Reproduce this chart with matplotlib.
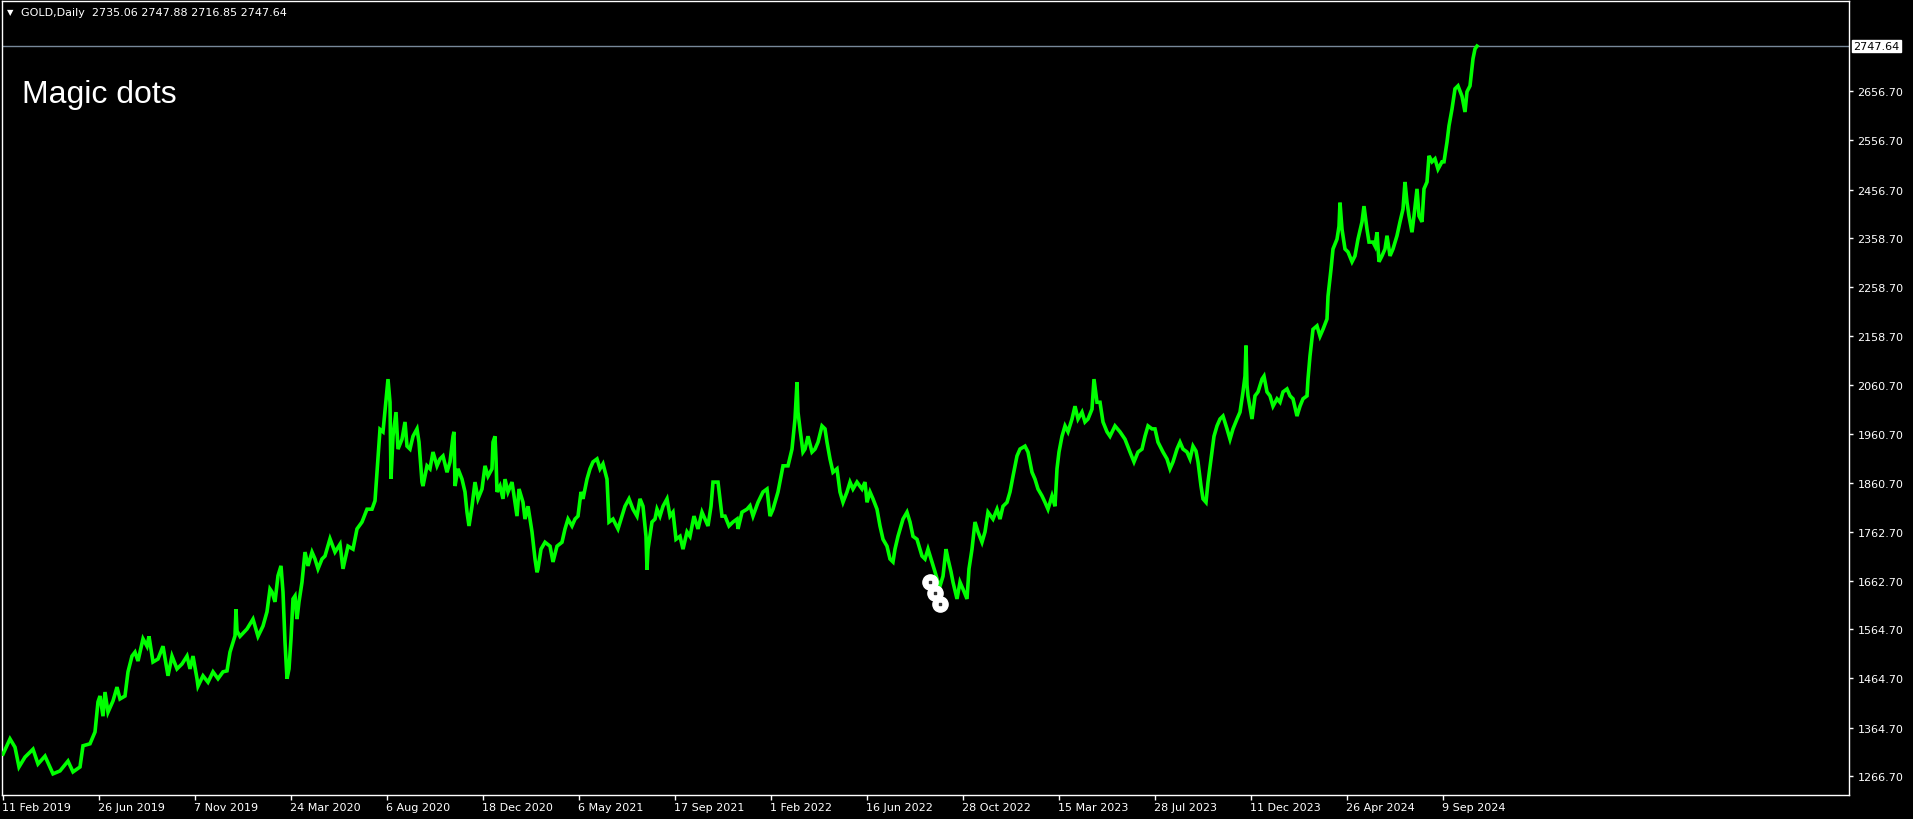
import matplotlib
matplotlib.use("Agg")
import matplotlib.pyplot as plt
import matplotlib.transforms as mtransforms

# bar column (one bar per pixel column, bar 3 = 11 Feb 2019) and price at turning points
bar = [3, 10, 15, 19, 25, 33, 38, 45, 53, 60, 68, 73, 80, 83, 90, 95, 98, 100, 103, 105,
       108, 113, 117, 120, 125, 128, 132, 135, 138, 143, 147, 149, 153, 158, 163, 168, 172, 177, 182, 187,
       190, 193, 197, 198, 203, 208, 213, 218, 223, 227, 230, 235, 236, 237, 240, 247, 253, 258, 263, 267,
       270, 272, 275, 278, 281, 283, 285, 287, 289, 291, 293, 295, 297, 299, 302, 305, 308, 312, 315, 318,
       322, 325, 330, 335, 340, 343, 348, 353, 357, 362, 367, 372, 375, 377, 380, 383, 387, 388, 390, 391,
       393, 396, 398, 402, 405, 407, 410, 413, 417, 419, 422, 423, 427, 430, 433, 437, 440, 443, 447, 450,
       453, 454, 455, 458, 462, 465, 467, 469, 472, 475, 478, 482, 485, 488, 492, 493, 495, 496, 497, 500,
       503, 505, 508, 512, 515, 517, 519, 523, 525, 528, 532, 535, 537, 538, 541, 545, 550, 553, 557, 562,
       565, 568, 572, 575, 578, 581, 583, 587, 590, 593, 597, 600, 603, 607, 609, 613, 618, 622, 625, 629,
       633, 637, 640, 643, 646, 647, 648, 652, 655, 657, 660, 663, 667, 670, 673, 676, 680, 683, 687, 690,
       694, 698, 702, 705, 708, 711, 713, 718, 722, 725, 729, 733, 737, 738, 742, 747, 750, 753, 758, 763,
       767, 770, 773, 778, 783, 788, 792, 795, 797, 798, 800, 803, 805, 808, 812, 815, 818, 822, 825, 827,
       830, 833, 837, 840, 843, 847, 850, 853, 857, 862, 865, 867, 870, 873, 877, 880, 883, 887, 890, 893,
       895, 898, 903, 907, 910, 913, 917, 922, 925, 928, 932, 935, 938, 940, 943, 946, 948, 951, 953, 957,
       960, 963, 967, 969, 972, 975, 978, 982, 985, 988, 993, 997, 1000, 1003, 1007, 1010, 1013, 1017, 1020, 1025,
       1028, 1032, 1035, 1038, 1042, 1045, 1048, 1052, 1055, 1057, 1059, 1062, 1065, 1068, 1072, 1075, 1078, 1082, 1085, 1088,
       1092, 1094, 1097, 1100, 1103, 1107, 1110, 1115, 1120, 1125, 1130, 1134, 1138, 1142, 1145, 1148, 1152, 1155, 1158, 1163,
       1167, 1170, 1173, 1177, 1180, 1183, 1187, 1190, 1193, 1196, 1198, 1201, 1203, 1206, 1208, 1211, 1214, 1217, 1220, 1223,
       1227, 1230, 1233, 1237, 1240, 1243, 1245, 1246, 1247, 1248, 1252, 1255, 1258, 1262, 1264, 1267, 1270, 1273, 1277, 1280,
       1283, 1287, 1290, 1293, 1297, 1300, 1303, 1307, 1308, 1310, 1313, 1317, 1320, 1323, 1327, 1328, 1331, 1333, 1337, 1339,
       1340, 1342, 1345, 1348, 1352, 1355, 1358, 1362, 1364, 1367, 1369, 1373, 1375, 1377, 1379, 1382, 1385, 1387, 1390, 1393,
       1397, 1400, 1403, 1405, 1407, 1409, 1412, 1414, 1417, 1419, 1422, 1424, 1427, 1429, 1432, 1435, 1438, 1442, 1444, 1447,
       1449, 1452, 1455, 1458, 1462, 1465, 1467, 1470, 1473, 1475, 1477]
price = [1311, 1342, 1325, 1285, 1305, 1321, 1291, 1307, 1271, 1277, 1297, 1275, 1285, 1328, 1332, 1356, 1417, 1429, 1388, 1437,
         1396, 1419, 1447, 1423, 1429, 1478, 1510, 1518, 1500, 1545, 1530, 1550, 1498, 1504, 1530, 1470, 1510, 1484, 1494, 1510,
         1484, 1510, 1464, 1449, 1470, 1457, 1478, 1464, 1478, 1480, 1518, 1551, 1605, 1561, 1550, 1565, 1585, 1550, 1571, 1600,
         1646, 1640, 1620, 1673, 1693, 1640, 1538, 1464, 1484, 1545, 1626, 1632, 1585, 1620, 1660, 1721, 1693, 1721, 1707, 1687,
         1707, 1713, 1748, 1721, 1737, 1687, 1733, 1727, 1768, 1782, 1808, 1808, 1825, 1883, 1970, 1965, 2052, 2072, 2025, 1870,
         1956, 2005, 1930, 1950, 1985, 1936, 1930, 1956, 1971, 1944, 1863, 1855, 1896, 1890, 1924, 1896, 1910, 1916, 1883, 1904,
         1956, 1965, 1855, 1890, 1869, 1843, 1802, 1774, 1814, 1863, 1829, 1849, 1896, 1875, 1890, 1944, 1956, 1910, 1843, 1855,
         1829, 1869, 1843, 1863, 1822, 1794, 1849, 1822, 1788, 1814, 1762, 1707, 1680, 1687, 1727, 1741, 1733, 1701, 1733, 1741,
         1768, 1788, 1774, 1788, 1794, 1843, 1829, 1869, 1890, 1904, 1910, 1890, 1900, 1869, 1782, 1788, 1768, 1794, 1814, 1829,
         1808, 1794, 1829, 1814, 1753, 1685, 1727, 1782, 1788, 1808, 1794, 1814, 1829, 1794, 1802, 1747, 1753, 1727, 1762, 1753,
         1794, 1768, 1802, 1788, 1774, 1814, 1863, 1863, 1794, 1794, 1774, 1782, 1788, 1768, 1802, 1808, 1815, 1794, 1822, 1843,
         1849, 1794, 1808, 1843, 1896, 1896, 1930, 1991, 2066, 2005, 1971, 1924, 1930, 1956, 1924, 1930, 1944, 1977, 1971, 1944,
         1910, 1883, 1890, 1843, 1822, 1843, 1863, 1849, 1863, 1849, 1863, 1822, 1843, 1829, 1808, 1774, 1747, 1733, 1707, 1701,
         1727, 1753, 1788, 1802, 1782, 1753, 1747, 1713, 1707, 1727, 1701, 1681, 1660, 1652, 1672, 1727, 1707, 1681, 1660, 1626,
         1660, 1646, 1626, 1687, 1727, 1782, 1762, 1741, 1762, 1802, 1788, 1808, 1788, 1814, 1822, 1843, 1875, 1916, 1930, 1936,
         1924, 1883, 1869, 1849, 1835, 1822, 1808, 1835, 1814, 1890, 1924, 1956, 1977, 1965, 1991, 2017, 1991, 2005, 1985, 1991,
         2011, 2072, 2025, 2025, 1985, 1965, 1956, 1977, 1965, 1950, 1924, 1904, 1924, 1930, 1956, 1977, 1971, 1971, 1944, 1924,
         1910, 1890, 1904, 1930, 1944, 1930, 1924, 1910, 1936, 1926, 1904, 1855, 1829, 1822, 1863, 1910, 1956, 1977, 1991, 1997,
         1971, 1950, 1971, 1991, 2005, 2046, 2078, 2140, 2060, 2038, 1991, 2038, 2046, 2072, 2078, 2046, 2038, 2017, 2032, 2025,
         2046, 2052, 2038, 2032, 1997, 2017, 2032, 2038, 2072, 2119, 2173, 2180, 2159, 2173, 2194, 2240, 2295, 2336, 2356, 2382,
         2430, 2376, 2336, 2330, 2310, 2322, 2356, 2391, 2423, 2376, 2350, 2350, 2342, 2370, 2310, 2322, 2336, 2363, 2322, 2336,
         2363, 2391, 2417, 2472, 2431, 2403, 2370, 2403, 2458, 2403, 2391, 2458, 2472, 2525, 2513, 2519, 2498, 2513, 2513, 2553,
         2586, 2620, 2661, 2667, 2646, 2614, 2655, 2667, 2722, 2742, 2747.64]

# magic dots signals
dot_bar = [930, 935, 940]
dot_price = [1660, 1638, 1616]

last_price = 2747.64
ohlc_text = "GOLD,Daily  2735.06 2747.88 2716.85 2747.64"

y_ticks = [2656.70, 2556.70, 2456.70, 2358.70, 2258.70, 2158.70, 2060.70, 1960.70,
           1860.70, 1762.70, 1662.70, 1564.70, 1464.70, 1364.70, 1266.70]
x_ticks = [3, 99, 195, 291, 387, 483, 579, 675, 771, 867, 963, 1059, 1155, 1251, 1347, 1443]
x_labels = ["11 Feb 2019", "26 Jun 2019", "7 Nov 2019", "24 Mar 2020", "6 Aug 2020",
            "18 Dec 2020", "6 May 2021", "17 Sep 2021", "1 Feb 2022", "16 Jun 2022",
            "28 Oct 2022", "15 Mar 2023", "28 Jul 2023", "11 Dec 2023", "26 Apr 2024",
            "9 Sep 2024"]

W, H = 1913, 820
fig = plt.figure(figsize=(W / 100, H / 100), dpi=100, facecolor="black")
ax = fig.add_axes([2 / W, 24 / H, 1847 / W, 794 / H], facecolor="black")

ax.plot(bar, price, color="#00FF00", lw=2.6, solid_joinstyle="miter", zorder=3)
ax.axhline(last_price, color="#778899", lw=1, zorder=2)

ax.scatter(dot_bar, dot_price, s=120, facecolor="white", edgecolor="white", zorder=5)
ax.scatter(dot_bar, dot_price, s=4, color="#303030", marker="s", zorder=6)

ax.set_xlim(2, 1849)
ax.set_ylim(1228.1, 2839.2)

for s in ax.spines.values():
    s.set_color("white")
    s.set_linewidth(1)

ax.yaxis.tick_right()
ax.set_yticks(y_ticks)
ax.set_yticklabels([f"{v:.2f}" for v in y_ticks])
ax.tick_params(axis="y", colors="white", length=3, width=1, pad=3, labelsize=8, direction="out")
ax.set_xticks(x_ticks)
ax.set_xticklabels(x_labels, ha="left")
ax.tick_params(axis="x", colors="white", length=3.5, width=1, pad=1.5, labelsize=8, direction="out")
offset = mtransforms.ScaledTranslation(-1 / 100, 0, fig.dpi_scale_trans)
for lbl in ax.get_xticklabels():
    lbl.set_transform(lbl.get_transform() + offset)

# current price tag on the price scale
trans = mtransforms.blended_transform_factory(ax.transAxes, ax.transData)
ax.text(1.0 + 4 / 1847, last_price, f"{last_price:.2f}", transform=trans, color="black",
        fontsize=8, va="center", ha="left",
        bbox=dict(boxstyle="square,pad=0.12", facecolor="white", edgecolor="white"))

# header and label
fig.text(7 / W, 1 - 13 / H, "\u25bc", color="white", fontsize=6, va="center", ha="left")
fig.text(21 / W, 1 - 13 / H, ohlc_text, color="white", fontsize=8, va="center", ha="left")
fig.text(22 / W, 1 - 103 / H, "Magic dots", color="white", fontsize=23,
         family="Liberation Sans", va="baseline", ha="left")

fig.savefig("out.png", dpi=100, facecolor="black")
